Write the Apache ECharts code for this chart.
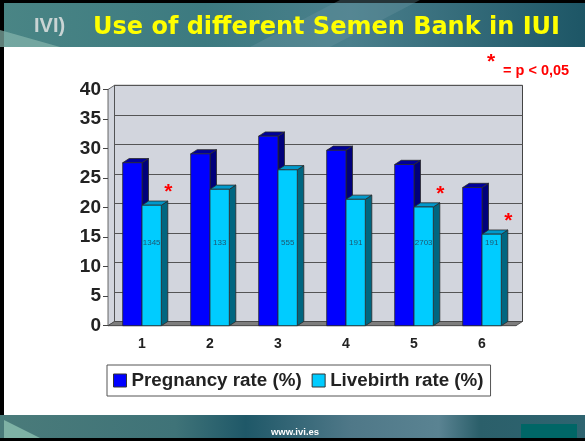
<!DOCTYPE html>
<html>
<head>
<meta charset="utf-8">
<script src="https://cdn.jsdelivr.net/npm/echarts@6/dist/echarts.min.js"></script>
<style>
  html, body { margin: 0; padding: 0; background: #fff; }
  #chart { width: 585px; height: 441px; }
</style>
</head>
<body>
<div id="chart"></div>
<script>
  // values
  const categories = ['1', '2', '3', '4', '5', '6'];
  const pregnancyRate = [27.6, 29.1, 32.1, 29.7, 27.3, 23.4];
  const livebirthRate = [20.4, 23.1, 26.4, 21.4, 20.1, 15.5];
  const cycleCounts = ['1345', '133', '555', '191', '2703', '191'];
  const significant = [true, false, false, false, true, true];
  const yMin = 0, yMax = 40, yStep = 5;

  // front plane of the 3D plot and depth offset
  const G = { left: 108, top: 89.5, right: 69, bottom: 115.3 };
  const DX = 6.5, DY = -4.2;
  const W = 585, H = 441;
  const frontRight = W - G.right, frontBase = H - G.bottom;

  const darkFaces = { front: '#0000ff', top: '#00009a', side: '#00007a' };
  const lightFaces = { front: '#00ccff', top: '#0099cc', side: '#006680' };

  function bar3d(faces, leftSide, extras) {
    return function (params, api) {
      const i = api.value(0);
      const top = api.coord([i, api.value(1)]);
      const base = api.coord([i, 0]);
      const band = api.size([1, 0])[0];
      const w = band * 0.284;
      const x0 = leftSide ? top[0] - w : top[0];
      const x1 = x0 + w;
      const y0 = top[1], yb = base[1];
      const line = { stroke: '#2a2a2a', lineWidth: 0.8 };
      const children = [
        { type: 'polygon', shape: { points: [[x1, y0], [x1 + DX, y0 + DY], [x1 + DX, yb + DY], [x1, yb]] },
          style: Object.assign({ fill: faces.side }, line) },
        { type: 'polygon', shape: { points: [[x0, y0], [x1, y0], [x1 + DX, y0 + DY], [x0 + DX, y0 + DY]] },
          style: Object.assign({ fill: faces.top }, line) },
        { type: 'rect', shape: { x: x0, y: y0, width: w, height: yb - y0 },
          style: Object.assign({ fill: faces.front }, line) }
      ];
      if (extras) {
        const lp = api.coord([i, 14]);
        children.push({ type: 'text', x: x0 + w / 2, y: lp[1],
          style: { text: cycleCounts[i], fill: '#1d5670', fontSize: 8, fontFamily: 'Liberation Sans',
            align: 'center', verticalAlign: 'middle' } });
        if (significant[i]) {
          children.push({ type: 'text', x: x1 + DX + 0.5, y: y0 - 13,
            style: { text: '*', fill: '#ff0000', fontSize: 21, fontWeight: 'bold', fontFamily: 'Liberation Sans',
              align: 'center', verticalAlign: 'middle' } });
        }
      }
      return { type: 'group', children: children };
    };
  }

  const chart = echarts.init(document.getElementById('chart'));
  const option = {
    animation: false,
    backgroundColor: '#ffffff',
    graphic: [
      // slide frame
      { type: 'rect', z: -10, shape: { x: 0, y: 0, width: W, height: 47 },
        style: { fill: new echarts.graphic.LinearGradient(0, 0, 1, 0, [
          { offset: 0, color: '#4a8585' }, { offset: 0.35, color: '#3c7a80' },
          { offset: 0.6, color: '#4a7f8c' }, { offset: 1, color: '#1d5666' }]) } },
      { type: 'polygon', z: -9, shape: { points: [[0, 30], [60, 47], [0, 47]] }, style: { fill: '#86b5ad', opacity: 0.7 } },
      { type: 'polygon', z: -9, shape: { points: [[340, 0], [420, 0], [330, 47], [250, 47]] }, style: { fill: '#6a96a0', opacity: 0.35 } },
      { type: 'rect', z: -10, shape: { x: 0, y: 0, width: W, height: 3 }, style: { fill: '#000' } },
      { type: 'rect', z: -10, shape: { x: 0, y: 0, width: 4, height: H }, style: { fill: '#000' } },
      { type: 'rect', z: -10, shape: { x: 0, y: 415, width: W, height: 23 },
        style: { fill: new echarts.graphic.LinearGradient(0, 0, 1, 0, [
          { offset: 0, color: '#4a7b7a' }, { offset: 0.3, color: '#3f7378' },
          { offset: 0.42, color: '#1f5868' }, { offset: 0.6, color: '#4f7888' },
          { offset: 0.75, color: '#5a8392' }, { offset: 0.82, color: '#2b5f6a' }, { offset: 1, color: '#2e6470' }]) } },
      { type: 'polygon', z: -9, shape: { points: [[4, 420], [40, 438], [4, 438]] }, style: { fill: '#8cc0b0', opacity: 0.8 } },
      { type: 'rect', z: -9, shape: { x: 521, y: 424, width: 56, height: 14 }, style: { fill: '#006666' } },
      { type: 'rect', z: -10, shape: { x: 0, y: 438, width: W, height: 3 }, style: { fill: '#000' } },
      { type: 'text', z: -8, x: 295, y: 432,
        style: { text: 'www.ivi.es', fill: '#ffffff', fontSize: 9.5, fontWeight: 'bold', fontFamily: 'Liberation Sans',
          align: 'center', verticalAlign: 'middle' } },
      { type: 'text', z: -8, x: 34, y: 26,
        style: { text: 'IVI)', fill: '#c9d4d4', fontSize: 20, fontWeight: 'bold', fontFamily: 'Liberation Sans',
          verticalAlign: 'middle' } },
      { type: 'text', z: -8, x: 93, y: 28,
        style: { text: 'Use of different Semen Bank in IUI', fill: '#ffff00', fontSize: 24, fontWeight: 'bold',
          fontFamily: 'DejaVu Sans', verticalAlign: 'middle' } },
      // significance key
      { type: 'text', x: 491, y: 62,
        style: { text: '*', fill: '#ff0000', fontSize: 21, fontWeight: 'bold', fontFamily: 'Liberation Sans',
          align: 'center', verticalAlign: 'middle' } },
      { type: 'text', x: 503, y: 71,
        style: { text: '= p < 0,05', fill: '#ff0000', fontSize: 14.5, fontWeight: 'bold', fontFamily: 'Liberation Sans',
          verticalAlign: 'middle' } },
      // left wall and floor
      { type: 'polygon', z: 1, shape: { points: [[G.left, G.top], [G.left + DX, G.top + DY], [G.left + DX, frontBase + DY], [G.left, frontBase]] },
        style: { fill: '#d2d5dd', stroke: '#444', lineWidth: 0.8 } },
      { type: 'polygon', z: 1, shape: { points: [[G.left, frontBase], [frontRight, frontBase], [frontRight + DX, frontBase + DY], [G.left + DX, frontBase + DY]] },
        style: { fill: '#7d7d7d', stroke: '#444', lineWidth: 0.8 } }
    ],
    legend: {
      data: ['Pregnancy rate (%)', 'Livebirth rate (%)'],
      left: 107, top: 365,
      icon: 'rect', itemWidth: 13, itemHeight: 13, itemGap: 10,
      padding: [6, 7, 6, 6],
      backgroundColor: '#ffffff', borderColor: '#555', borderWidth: 1,
      itemStyle: { borderColor: '#333', borderWidth: 1 },
      textStyle: { fontFamily: 'Liberation Sans', fontSize: 18.8, fontWeight: 'bold', color: '#222' }
    },
    grid: [
      { left: G.left, top: G.top, right: G.right, bottom: G.bottom },
      { left: G.left + DX, top: G.top + DY, right: G.right - DX, bottom: G.bottom - DY,
        show: true, backgroundColor: '#d2d5dd', borderColor: '#444', borderWidth: 1 }
    ],
    xAxis: [
      { type: 'category', gridIndex: 0, data: categories,
        axisLine: { lineStyle: { color: '#444', width: 1 } },
        axisTick: { length: 4, lineStyle: { color: '#444' } },
        axisLabel: { margin: 11, fontFamily: 'Liberation Sans', fontSize: 14, fontWeight: 'bold', color: '#222' } },
      { type: 'category', gridIndex: 1, data: categories, show: false }
    ],
    yAxis: [
      { type: 'value', gridIndex: 0, min: yMin, max: yMax, interval: yStep,
        axisLine: { show: true, lineStyle: { color: '#444' } },
        axisTick: { show: true, length: 5, lineStyle: { color: '#444' } },
        splitLine: { show: false },
        axisLabel: { margin: 7, fontFamily: 'Liberation Sans', fontSize: 19, fontWeight: 'bold', color: '#222' } },
      { type: 'value', gridIndex: 1, min: yMin, max: yMax, interval: yStep,
        axisLine: { show: false }, axisTick: { show: false }, axisLabel: { show: false },
        splitLine: { show: true, lineStyle: { color: '#555', width: 1 } } }
    ],
    series: [
      { name: 'Pregnancy rate (%)', type: 'custom', xAxisIndex: 0, yAxisIndex: 0, z: 3,
        itemStyle: { color: darkFaces.front },
        renderItem: bar3d(darkFaces, true, false),
        data: pregnancyRate.map((v, i) => [i, v]) },
      { name: 'Livebirth rate (%)', type: 'custom', xAxisIndex: 0, yAxisIndex: 0, z: 4,
        itemStyle: { color: lightFaces.front },
        renderItem: bar3d(lightFaces, false, true),
        data: livebirthRate.map((v, i) => [i, v]) }
    ]
  };
  chart.setOption(option);
</script>
</body>
</html>
